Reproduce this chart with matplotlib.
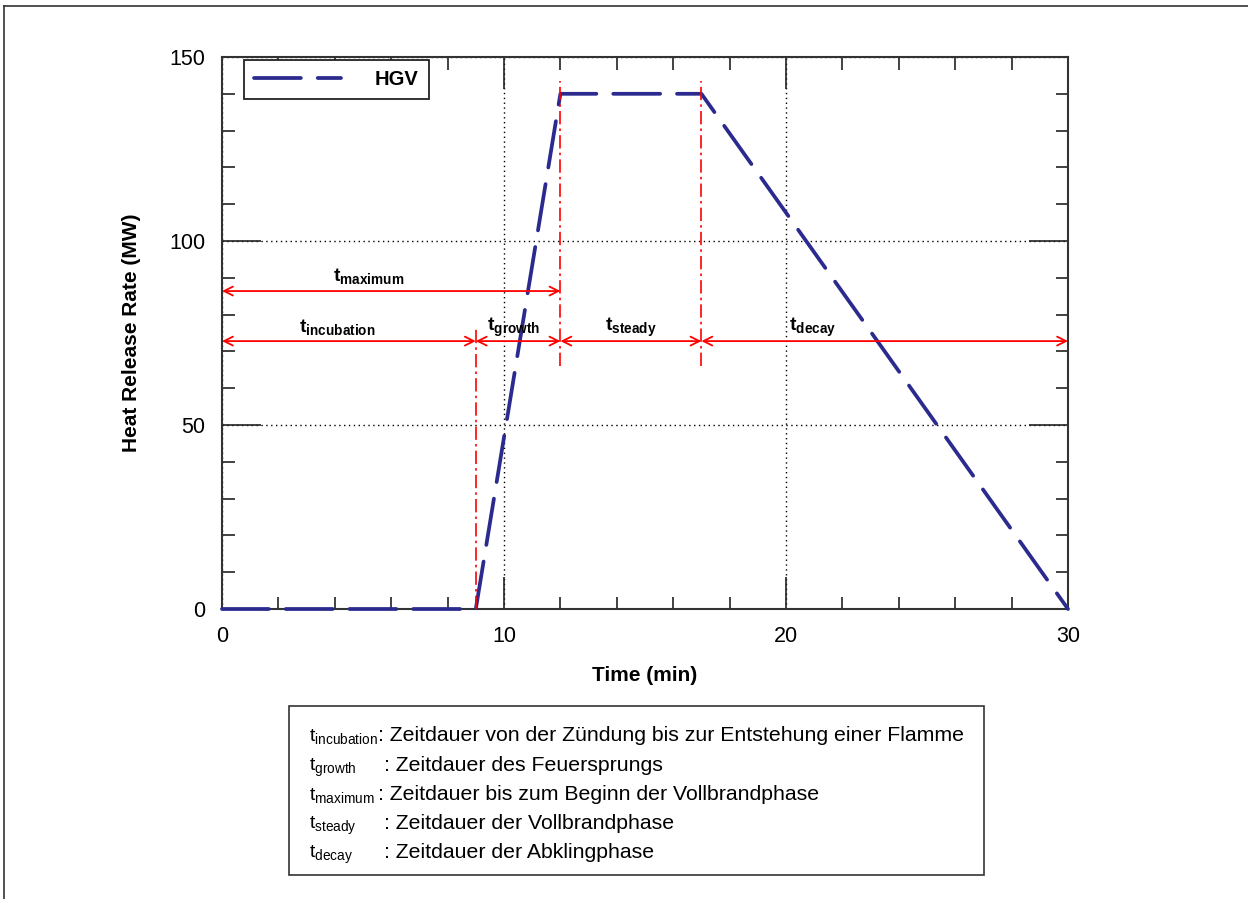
import matplotlib.pyplot as plt
from matplotlib.patches import Rectangle
from matplotlib.lines import Line2D

plt.rcParams['font.family'] = ['Liberation Sans', 'DejaVu Sans']
plt.rcParams['mathtext.fontset'] = 'custom'
plt.rcParams['mathtext.rm'] = 'Liberation Sans'
plt.rcParams['mathtext.bf'] = 'Liberation Sans:bold'
plt.rcParams['mathtext.it'] = 'Liberation Sans:italic'

# HGV fire curve
time_min = [0, 9, 12, 17, 30]
hrr_mw = [0, 0, 140, 140, 0]

# phase boundaries and labels
phase_edges = [0, 9, 12, 17, 30]
phase_names = ['incubation', 'growth', 'steady', 'decay']
phase_label_x = [4.1, 10.35, 14.5, 20.95]
phase_arrow_y = 72.8
phase_label_y = 76.6
max_arrow_y = 86.4
max_label = (5.2, 90.5)

# red dash-dot marker lines: (x, y_from, y_to)
marker_lines = [(9, 0, 76.5), (12, 66, 143.5), (17, 66, 143.5)]

legend_rows = [
    ('incubation', 'von der Zündung bis zur Entstehung einer Flamme'),
    ('growth', 'des Feuersprungs'),
    ('maximum', 'bis zum Beginn der Vollbrandphase'),
    ('steady', 'der Vollbrandphase'),
    ('decay', 'der Abklingphase'),
]

W, H = 1248, 899
fig = plt.figure(figsize=(W / 100, H / 100), dpi=100)
ax = fig.add_axes([222 / W, 1 - 609 / H, 846 / W, 552 / H])

navy = '#2b2b8f'
ax.plot(time_min, hrr_mw, color=navy, lw=2.7, dashes=(12.5, 4.5), label='HGV',
        dash_capstyle='round', clip_on=False, zorder=3)

for x, y0, y1 in marker_lines:
    ax.plot([x, x], [y0, y1], color='red', lw=1.2, ls=(0, (8, 2.5, 1.5, 2.5)), zorder=4)

arrow_kw = dict(arrowstyle='<->', color='red', lw=1.3, mutation_scale=16,
                shrinkA=0, shrinkB=0)
for i in range(len(phase_names)):
    ax.annotate('', xy=(phase_edges[i + 1], phase_arrow_y),
                xytext=(phase_edges[i], phase_arrow_y),
                arrowprops=arrow_kw, annotation_clip=False, zorder=5)
    ax.text(phase_label_x[i], phase_label_y,
            r'$\mathbf{t}_{\mathbf{%s}}$' % phase_names[i],
            ha='center', va='center', fontsize=14, zorder=6)
ax.annotate('', xy=(12, max_arrow_y), xytext=(0, max_arrow_y),
            arrowprops=arrow_kw, annotation_clip=False, zorder=5)
ax.text(max_label[0], max_label[1], r'$\mathbf{t}_{\mathbf{maximum}}$',
        ha='center', va='center', fontsize=14, zorder=6)

ax.set_xlim(0, 30)
ax.set_ylim(0, 150)
ax.set_xticks([0, 10, 20, 30])
ax.set_xticks([2, 4, 6, 8, 12, 14, 16, 18, 22, 24, 26, 28], minor=True)
ax.set_yticks([0, 50, 100, 150])
ax.set_yticks([v for v in range(0, 151, 10) if v % 50], minor=True)
ax.tick_params(which='both', direction='in', top=True, right=True,
               colors='#222222', width=1.2, labelsize=15.5, labelcolor='black')
ax.tick_params(axis='x', which='major', length=23, pad=12)
ax.tick_params(axis='y', which='major', length=28, pad=12)
ax.tick_params(which='minor', length=9)
ax.grid(True, which='major', color='black', ls=(0, (1, 2.5)), lw=1.0)
for s in ax.spines.values():
    s.set_linewidth(1.5)
    s.set_color('#333333')

ax.set_xlabel('Time (min)', fontsize=15, fontweight='bold', labelpad=14)
ax.set_ylabel('Heat Release Rate (MW)', fontsize=15, fontweight='bold', labelpad=20)

leg = ax.legend(loc='upper left', bbox_to_anchor=(22 / 846, 1 - 3 / 552),
                prop={'weight': 'bold', 'size': 14.5},
                handlelength=4.3, handletextpad=1.7, borderpad=0.5,
                borderaxespad=0, fancybox=False, edgecolor='#222222',
                framealpha=1)
leg.get_frame().set_linewidth(1.3)
leg.set_zorder(10)

# description box under the chart
fig.patches.append(Rectangle((289 / W, 1 - 875 / H), 695 / W, 169 / H,
                             transform=fig.transFigure, fill=False,
                             edgecolor='#333333', lw=1.2))
baselines = [741, 771, 800, 829, 858]
for (sub, rest), yb in zip(legend_rows, baselines):
    fig.text(309 / W, 1 - yb / H, r'$\mathrm{t}_{\mathrm{%s}}$' % sub,
             fontsize=14, va='baseline', ha='left')
    cx = 378 if sub in ('incubation', 'maximum') else 384
    fig.text(cx / W, 1 - yb / H, ': Zeitdauer ' + rest,
             fontsize=15.3, va='baseline', ha='left')

# outer frame (left and top edges visible)
fig.lines.append(Line2D([4 / W, 4 / W], [0, 1 - 6 / H], transform=fig.transFigure,
                        color='#333333', lw=1.2))
fig.lines.append(Line2D([4 / W, 1], [1 - 6 / H, 1 - 6 / H], transform=fig.transFigure,
                        color='#333333', lw=1.2))

fig.savefig('out.png', dpi=100)
